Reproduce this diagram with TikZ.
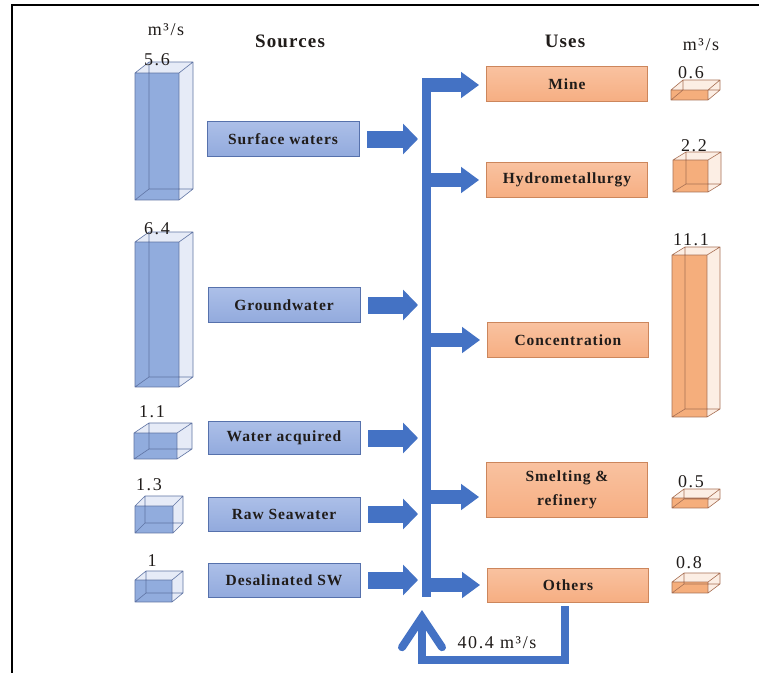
\documentclass[tikz,border=0pt]{standalone}
\usepackage{fontspec}
\setmainfont{Liberation Serif}
\newfontfamily\labelfont[LetterSpace=6]{Liberation Serif}
\newfontfamily\numfont[LetterSpace=9]{Liberation Serif}
\usetikzlibrary{arrows.meta,calc}

\definecolor{srcfill}{RGB}{146,170,221}
\definecolor{srctop}{RGB}{172,191,232}
\definecolor{srcedge}{RGB}{86,113,172}
\definecolor{flowblue}{RGB}{68,114,196}
\definecolor{cubeblue}{RGB}{140,168,220}
\definecolor{cubebluelight}{RGB}{224,231,245}
\definecolor{cubeblueedge}{RGB}{96,116,164}
\definecolor{usefill}{RGB}{246,174,130}
\definecolor{usetop}{RGB}{249,194,160}
\definecolor{useedge}{RGB}{204,134,92}
\definecolor{cubeorange}{RGB}{245,170,118}
\definecolor{cubeorangelight}{RGB}{252,234,222}
\definecolor{cubeorangeedge}{RGB}{168,112,84}
\definecolor{inkdark}{RGB}{32,28,26}

% Transparent cuboid: front face top-left (#1,#2), size #3 x #4,
% depth offset (#5,#6), colour prefix #7 (cubeblue / cubeorange)
\newcommand{\drawcube}[7]{%
  \fill[#7light, opacity=0.8]
    (#1+#3,#2) -- (#1+#3+#5,#2-#6) -- (#1+#3+#5,#2+#4-#6) -- (#1+#3,#2+#4) -- cycle;
  \fill[#7light, opacity=0.8]
    (#1,#2) -- (#1+#5,#2-#6) -- (#1+#3+#5,#2-#6) -- (#1+#3,#2) -- cycle;
  \fill[#7, opacity=0.95] (#1,#2) rectangle (#1+#3,#2+#4);
  \draw[#7edge, line width=0.6pt, line join=round]
    (#1,#2) rectangle (#1+#3,#2+#4)
    (#1,#2) -- (#1+#5,#2-#6) -- (#1+#3+#5,#2-#6) -- (#1+#3,#2)
    (#1+#3+#5,#2-#6) -- (#1+#3+#5,#2+#4-#6) -- (#1+#3,#2+#4)
    (#1+#5,#2-#6) -- (#1+#5,#2+#4-#6) -- (#1+#3+#5,#2+#4-#6)
    (#1,#2+#4) -- (#1+#5,#2+#4-#6);
}

\tikzset{
  srcbox/.style={draw=srcedge, line width=0.8pt, top color=srctop, bottom color=srcfill,
    minimum width=152pt, minimum height=35pt, inner sep=0pt, text=inkdark,
    font=\labelfont\bfseries\fontsize{15.5}{17}\selectfont},
  usebox/.style={draw=useedge, line width=0.8pt, top color=usetop, bottom color=usefill,
    minimum width=161pt, minimum height=35pt, inner sep=0pt, text=inkdark, align=center,
    font=\labelfont\bfseries\fontsize{15.5}{24}\selectfont},
  heading/.style={text=inkdark, font=\labelfont\bfseries\fontsize{19}{21}\selectfont},
  unitlabel/.style={text=inkdark, font=\numfont\fontsize{18}{20}\selectfont},
  value/.style={text=inkdark, font=\numfont\fontsize{18}{20}\selectfont, inner sep=0pt},
  inflow/.style={flowblue, line width=17pt,
    -{Triangle[length=15pt,width=30pt]}, shorten <=8pt, shorten >=8pt},
  outflow/.style={flowblue, line width=14pt,
    -{Triangle[length=18pt,width=25pt]}, shorten >=7pt},
  trunkline/.style={flowblue, line width=9pt},
  returnflow/.style={flowblue, line width=8pt, line join=miter,
    -{Straight Barb[length=30pt,width=40pt,line cap=round]}},
}

\begin{document}
\begin{tikzpicture}[x=1pt, y=-1pt]
\useasboundingbox (0,0) rectangle (759,672);
\fill[white] (0,0) rectangle (759,672);

% frame
\draw[black, line width=2pt] (12,690) -- (12,5) -- (780,5);

% headings
\node[unitlabel] (unitL) at (166,30) {m³/s};
\node[heading] (hsrc) at (290,41) {Sources};
\node[heading] (huse) at (565,41) {Uses};
\node[unitlabel] (unitR) at (701,45) {m³/s};

% source cuboids and their values
\drawcube{135}{73}{44}{127}{14}{11}{cubeblue}
\node[value] (v1) at (157,60) {5.6};
\drawcube{135}{242}{44}{145}{14}{10}{cubeblue}
\node[value] (v2) at (157,229) {6.4};
\drawcube{134}{433}{43}{26}{15}{10}{cubeblue}
\node[value] (v3) at (152,412) {1.1};
\drawcube{135}{506}{38}{27}{10}{10}{cubeblue}
\node[value] (v4) at (149,485) {1.3};
\drawcube{135}{580}{37}{22}{11}{9}{cubeblue}
\node[value] (v5) at (152,561) {1};

% use cuboids and their values
\drawcube{671}{90}{37}{10}{12}{10}{cubeorange}
\node[value] (u1) at (691,73) {0.6};
\drawcube{673}{160}{35}{32}{13}{8}{cubeorange}
\node[value] (u2) at (694,146) {2.2};
\drawcube{672}{255}{35}{162}{13}{8}{cubeorange}
\node[value] (u3) at (691,240) {11.1};
\drawcube{672}{498}{36}{10}{12}{9}{cubeorange}
\node[value] (u4) at (691,482) {0.5};
\drawcube{672}{582}{36}{11}{12}{9}{cubeorange}
\node[value] (u5) at (689,563) {0.8};

% source boxes
\node[srcbox] (sw) at (283,139) {Surface waters};
\node[srcbox] (gw) at (284,305) {Groundwater};
\node[srcbox, minimum height=33pt] (wa) at (284,438) {Water acquired};
\node[srcbox, minimum height=34pt] (rs) at (284,514) {Raw Seawater};
\node[srcbox, minimum height=34pt] (ds) at (284,580) {Desalinated SW};

% use boxes
\node[usebox] (mine) at (567,84) {Mine};
\node[usebox] (hydro) at (567,180) {Hydrometallurgy};
\node[usebox] (conc) at (568,340) {Concentration};
\node[usebox, minimum height=55pt] (smelt) at (567,490) {Smelting \&\\refinery};
\node[usebox, minimum height=34pt] (oth) at (568,585) {Others};

% collector trunk
\coordinate (trunkTop) at (426,78);
\coordinate (trunkBot) at (426,597);
\draw[trunkline] (trunkTop) -- (trunkBot);

% inflows into the trunk
\foreach \s in {sw,gw,wa,rs,ds}
  \draw[inflow] (\s.east) -- (\s.east -| trunkTop);

% outflows to the uses
\draw[outflow] (mine.west -| trunkTop) ++(0,1) -- ($(mine.west)+(0,1)$);
\foreach \u in {hydro,conc,oth}
  \draw[outflow] (\u.west -| trunkTop) -- (\u.west);
\draw[outflow] ($(smelt.west -| trunkTop)+(0,7)$) -- ($(smelt.west)+(0,7)$);

% recirculated water
\coordinate (retStart) at (565,606);
\coordinate (retCorner) at (565,660);
\coordinate (retEnd) at (422,610);
\draw[returnflow] (retStart) -- (retCorner) -- (retEnd |- retCorner) -- (retEnd);
\node[unitlabel] (recirc) at (497,643) {40.4 m³/s};
\end{tikzpicture}
\end{document}
